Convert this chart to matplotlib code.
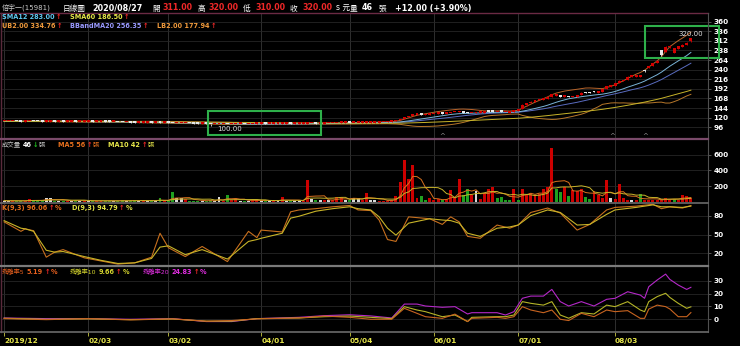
import numpy as np
import pandas as pd
import matplotlib
matplotlib.use('Agg')
import matplotlib.pyplot as plt
from matplotlib.lines import Line2D
from matplotlib.patches import Rectangle

plt.rcParams['font.family'] = ['DejaVu Sans', 'Noto Sans CJK TC']

W, H = 740, 346

# daily bars, one per trading day from 2019/12 to 2020/08/27
opens = [
    111, 111, 111, 111.5, 111, 110.5, 111, 112, 111.5, 111,
    110.5, 110.5, 110.5, 110, 110, 109.5, 110, 110, 109.5, 109.5,
    110, 110, 109.5, 110, 110.5, 110, 109.5, 109.5, 109, 108.5,
    108.5, 108, 107.5, 107.5, 108, 108, 107.5, 107.5, 107, 107.5,
    107, 106, 106, 106, 106.5, 106, 105.5, 105, 105, 104.5,
    104, 104, 104, 104.5, 103.5, 104, 104.5, 104.5, 104, 104,
    104.5, 105, 105, 104.5, 104.5, 105, 105, 105.5, 105.5, 105,
    105, 105, 105.5, 106, 106, 105.5, 105.5, 106, 106, 106.5,
    107, 107.5, 107.5, 107, 107, 107, 107.5, 108, 108, 108,
    108.5, 109, 110, 111.5, 113.5, 117, 121, 124.5, 127, 128,
    126, 127, 128.5, 129.5, 131, 130, 131.5, 133.5, 133.5, 134.5,
    133.5, 131, 131.5, 132, 132.5, 136, 136.5, 134, 135.5, 133.5,
    133, 134, 138, 142, 151, 156.5, 160, 163.5, 165, 167,
    172, 175, 176, 172, 174, 171, 173, 176, 183.5, 183,
    185.5, 183, 185, 192, 198, 200, 206, 211, 214, 222,
    222, 223, 238, 244, 250, 257, 288, 284, 296, 282,
    292, 298, 303, 311,
]
highs = [
    111.5, 111.5, 112, 111.5, 111.5, 111.5, 112.5, 112.5, 112, 111.5,
    111, 111, 111, 110.5, 110.5, 110.5, 110.5, 110.5, 110, 110.5,
    110.5, 110.5, 110.5, 111, 111, 110.5, 110, 110, 109.5, 109,
    109, 108.5, 108, 108.5, 108.5, 108.5, 108, 108, 108, 108,
    107.5, 106.5, 106.5, 107, 107, 106.5, 106, 105.5, 105.5, 105,
    104.5, 104.5, 105, 105, 104.5, 105, 105, 105, 104.5, 105,
    105.5, 105.5, 105.5, 105, 105.5, 105.5, 106, 106, 106, 105.5,
    105.5, 106, 106.5, 106.5, 106.5, 106, 106.5, 106.5, 107, 107.5,
    108, 108, 108, 107.5, 107.5, 108, 108.5, 108.5, 108.5, 109,
    109.5, 110.5, 111.5, 114, 117, 122, 125, 128, 129, 128.5,
    128, 129, 130, 131.5, 132, 131.5, 134, 135, 136, 135,
    134, 132.5, 133, 133, 134.5, 136.5, 137, 135, 136, 134.5,
    134, 139.5, 139, 153, 157, 161, 165, 166, 168, 173,
    179, 178.5, 176.5, 175, 174.5, 174, 176, 183, 184, 184,
    186, 186, 192, 200, 201, 207, 213, 215, 224, 224,
    227, 226, 239, 250, 257, 263, 290, 298, 302, 295,
    299, 304, 309, 320,
]
lows = [
    110.5, 110.5, 110.5, 110.5, 110, 110, 110.5, 111, 110.5, 110,
    110, 110, 109.5, 109.5, 109, 109, 109.5, 109, 109, 109,
    109.5, 109, 109, 109.5, 109.5, 109, 109, 108.5, 108, 108,
    107.5, 107, 107, 107, 107.5, 107, 107, 106.5, 106.5, 106.5,
    105.5, 105.5, 105.5, 105.5, 105.5, 105, 104.5, 104.5, 104, 100,
    103.5, 103.5, 103.5, 103, 103, 103.5, 104, 103.5, 103.5, 103.5,
    104, 104.5, 104, 104, 104, 104.5, 104.5, 105, 104.5, 104.5,
    104.5, 104.5, 105, 105.5, 105, 105, 105, 105.5, 105.5, 106,
    106.5, 107, 106.5, 106.5, 106.5, 106.5, 107, 107.5, 107.5, 107.5,
    108, 108.5, 109.5, 111, 113, 116.5, 120.5, 124, 126.5, 126.5,
    125.5, 126.5, 128, 129, 130, 129.5, 131, 133, 133, 132.5,
    130.5, 130.5, 131, 131.5, 132, 134.5, 135, 133.5, 134, 133,
    132.5, 133.5, 137.5, 141.5, 150, 156, 159.5, 163, 164.5, 166.5,
    171.5, 174.5, 172, 171.5, 170.5, 170.5, 172.5, 175.5, 181, 180.5,
    183, 182.5, 184.5, 191.5, 197.5, 199.5, 205.5, 210.5, 213.5, 221.5,
    221.5, 222.5, 235, 243, 249, 256, 275, 283, 295, 281,
    291, 297, 302, 310,
]
closes = [
    111, 111, 111.5, 111, 110.5, 111, 112, 111.5, 111, 110.5,
    110.5, 110.5, 110, 110, 109.5, 110, 110, 109.5, 109.5, 110,
    110, 109.5, 110, 110.5, 110, 109.5, 109.5, 109, 108.5, 108.5,
    108, 107.5, 107.5, 108, 108, 107.5, 107.5, 107, 107.5, 107,
    106, 106, 106, 106.5, 106, 105.5, 105, 105, 104.5, 104,
    104, 104, 104.5, 103.5, 104, 104.5, 104.5, 104, 104, 104.5,
    105, 105, 104.5, 104.5, 105, 105, 105.5, 105.5, 105, 105,
    105, 105.5, 106, 106, 105.5, 105.5, 106, 106, 106.5, 107,
    107.5, 107.5, 107, 107, 107, 107.5, 108, 108, 108, 108.5,
    109, 110, 111, 113, 116, 121, 124, 127, 128, 127,
    126.5, 128.5, 129, 131, 130.5, 131, 133.5, 134, 135, 133,
    131, 132, 132, 132.5, 134, 135, 135.5, 135, 134.5, 134,
    133.5, 139, 138.5, 152, 156, 160, 164, 165, 167, 172,
    178, 176.5, 172.5, 174, 171, 173, 175, 182, 181.5, 181,
    183.5, 185, 191, 199, 199, 206, 212, 214, 222.5, 222.5,
    226, 224, 236, 249, 256, 262, 276, 297, 300, 293,
    298, 303, 308, 320,
]
volume = [
    12, 8, 10, 6, 8, 10, 32, 15, 10, 8,
    50, 45, 10, 8, 12, 10, 8, 20, 6, 10,
    8, 10, 6, 12, 10, 8, 6, 8, 20, 10,
    8, 15, 10, 20, 8, 6, 10, 45, 10, 8,
    120, 45, 40, 35, 10, 12, 8, 10, 12, 15,
    10, 55, 12, 86, 15, 30, 10, 12, 8, 15,
    20, 12, 10, 8, 10, 15, 52, 10, 12, 8,
    10, 12, 280, 30, 20, 15, 25, 20, 15, 60,
    55, 20, 25, 50, 45, 20, 110, 20, 15, 10,
    12, 10, 15, 65, 258, 538, 289, 473, 47, 73,
    20, 40, 15, 30, 15, 30, 150, 50, 289, 86,
    163, 86, 134, 30, 108, 163, 185, 45, 60, 20,
    20, 159, 20, 159, 86, 108, 86, 100, 159, 185,
    689, 163, 120, 185, 73, 150, 141, 163, 55, 35,
    141, 86, 45, 278, 50, 30, 228, 45, 25, 15,
    25, 95, 20, 15, 20, 20, 30, 45, 25, 30,
    25, 86, 73, 46,
]

date_idx = [0, 20, 39, 61, 82, 102, 122, 145]
date_labels = ['2019/12', '02/03', '03/02', '04/01', '05/04', '06/01', '07/01', '08/03']

# KD(9,3)
kd_idx = [0, 4, 5, 7, 10, 12, 14, 19, 23, 27, 31, 35, 37, 39, 43, 47, 53, 58, 60, 61,
          66, 68, 70, 74, 78, 82, 84, 87, 89, 91, 93, 96, 101, 104, 106, 108, 110, 113, 117, 120,
          122, 125, 129, 132, 136, 139, 143, 145, 150, 154, 156, 158, 161, 163]
k_vals = [70, 55, 59, 56, 14, 22, 26, 13, 8, 3, 5, 14, 52, 29, 15, 31, 7, 55, 45, 57,
          54, 86, 89, 91, 94, 96, 89, 88, 73, 42, 39, 78, 75, 66, 78, 70, 47, 44, 65, 60,
          65, 85, 92, 84, 57, 66, 89, 93, 95, 98, 91, 94, 92, 96]
d_vals = [72, 60, 59, 55, 25, 22, 23, 15, 9, 4, 5, 12, 30, 32, 18, 26, 11, 39, 42, 44,
          52, 76, 79, 87, 91, 94, 91, 89, 78, 60, 49, 68, 75, 73, 72, 68, 52, 47, 60, 62,
          65, 80, 89, 85, 65, 66, 82, 89, 93, 97, 94, 94, 93, 95]

# bias (乖離率) 5 / 10 / 20
bias_idx = [0, 10, 20, 30, 40, 48, 54, 60, 70, 76, 82, 87, 92, 95, 98, 100, 104, 107, 110, 111,
            117, 119, 121, 123, 125, 128, 130, 132, 134, 137, 140, 143, 145, 148, 151, 152, 153, 155, 157, 158,
            160, 162, 163]
bias5 = [0.5, -0.3, 0.5, -0.5, 0.3, -1.5, -1.0, 0.3, 1.0, 2.5, 1.5, 0.0, 0.0, 8.5, 4.6, 2.0, 0.7, 4.0, -1.8, 0.7,
         1.5, 0.7, 2.0, 9.8, 7.2, 5.1, 7.2, 0.0, -1.0, 4.6, 2.0, 7.2, 5.9, 6.7, 0.7, 0.7, 7.9, 11.0, 9.8, 8.0,
         2.0, 2.0, 5.19]
bias10 = [0.8, 0.0, 0.3, -0.3, 0.2, -1.5, -1.5, 0.5, 1.0, 2.0, 2.5, 1.5, 0.5, 9.8, 7.2, 5.9, 2.0, 3.3, -1.8, 1.5,
          2.0, 2.0, 3.3, 13.7, 12.4, 11.0, 13.7, 3.3, 0.8, 5.1, 4.1, 11.0, 9.8, 13.7, 7.2, 5.9, 13.7, 17.6, 20.2, 17.0,
          12.4, 8.5, 9.66]
bias20 = [1.0, 0.5, 0.5, 0.0, 0.5, -1.8, -1.8, 0.5, 1.5, 2.8, 3.5, 2.6, 1.0, 11.8, 11.8, 10.3, 9.3, 9.8, 4.1, 5.1,
          5.1, 3.3, 5.9, 16.3, 18.0, 18.0, 23.2, 13.7, 10.3, 13.7, 10.3, 15.5, 16.3, 21.4, 18.8, 16.3, 25.3, 30.5, 35.1, 31.0,
          26.6, 23.2, 24.83]

o, h, l, c = map(np.array, (opens, highs, lows, closes))
x = np.arange(len(c))
s = pd.Series(c)
sma12 = s.rolling(12, min_periods=1).mean()
sma60 = s.rolling(60, min_periods=1).mean()
mid = s.rolling(20, min_periods=1).mean()
sd = s.rolling(20, min_periods=1).std(ddof=0)
vs = pd.Series(volume)
vma5 = vs.rolling(5, min_periods=1).mean()
vma10 = vs.rolling(10, min_periods=1).mean()

fig = plt.figure(figsize=(W / 100, H / 100), dpi=100, facecolor='black')
renderer = fig.canvas.get_renderer()


def box(top, bottom):
    return [2 / W, 1 - bottom / H, 706 / W, (bottom - top) / H]


ax_p = fig.add_axes(box(13, 139))
ax_v = fig.add_axes(box(139, 203), sharex=ax_p)
ax_k = fig.add_axes(box(203, 266), sharex=ax_p)
ax_r = fig.add_axes(box(266, 332), sharex=ax_p)

panels = [
    (ax_p, (66.75, 381.75), list(range(96, 361, 24))),
    (ax_v, (-19, 806), [200, 400, 600]),
    (ax_k, (0, 100), [20, 50, 80]),
    (ax_r, (-9.9, 41.4), [0, 10, 20, 30]),
]
for ax, ylim, yt in panels:
    ax.set_facecolor('black')
    for sp in ax.spines.values():
        sp.set_visible(False)
    ax.set_ylim(*ylim)
    ax.yaxis.tick_right()
    ax.set_yticks(yt)
    ax.tick_params(axis='y', color='#777777', labelcolor='white', labelsize=5.2,
                   length=2, width=0.5, pad=2)
    ax.tick_params(axis='x', length=0, labelbottom=False)
    for lab in ax.get_yticklabels():
        lab.set_fontweight('bold')
    ax.xaxis.grid(True, color='#363636', lw=0.6)
    ax.yaxis.grid(True, color='#262626', lw=0.6)
    ax.set_axisbelow(True)

ax_p.set_xlim(-0.5, 167.06)
ax_r.set_xticks(date_idx)
ax_r.set_xticklabels(date_labels, ha='left', fontweight='bold')
ax_r.tick_params(axis='x', labelbottom=True, length=3, width=0.6, color='#c8c840',
                 labelcolor='#e6e64a', labelsize=5.3, pad=1.5)

# price panel
ax_p.plot(x, mid + 2 * sd, color='#b8642a', lw=0.7, zorder=2)
ax_p.plot(x, mid - 2 * sd, color='#b8782a', lw=0.7, zorder=2)
ax_p.plot(x, mid, color='#5a6cc0', lw=0.7, zorder=2)
ax_p.plot(x, sma12, color='#7ab4d8', lw=0.7, zorder=2)
ax_p.plot(x, sma60, color='#c8b42a', lw=0.7, zorder=2)
body_col = np.where(c >= o, '#d40000', '#e8e8e8')
ax_p.vlines(x, l, h, colors=body_col, lw=0.6, zorder=4)
ax_p.bar(x, np.maximum(np.abs(c - o), 3.5), bottom=np.minimum(o, c), width=0.7,
         color=body_col, linewidth=0, zorder=5)
hi = int(np.argmax(h))
lo = int(np.argmin(l))
ax_p.text(hi, h[hi] + 3, f'{h[hi]:.2f}', color='#e0e0e0', fontsize=5, ha='center', va='bottom')
ax_p.text(lo + 1.5, l[lo] - 1, f'{l[lo]:.2f}', color='#e0e0e0', fontsize=5, ha='left', va='top')

# volume panel
prev = np.r_[c[0], c[:-1]]
vcol = np.where(c > prev, '#cc0000', np.where(c < prev, '#1fa01f', '#d8d8d8'))
ax_v.bar(x, volume, width=0.7, color=vcol, linewidth=0, zorder=2)
ax_v.plot(x, vma5, color='#d8701e', lw=0.7, zorder=3)
ax_v.plot(x, vma10, color='#c8b42a', lw=0.7, zorder=3)

# KD panel
ax_k.plot(kd_idx, k_vals, color='#c8701e', lw=0.8)
ax_k.plot(kd_idx, d_vals, color='#c8b428', lw=0.8)

# bias panel
ax_r.plot(bias_idx, bias20, color='#b428c8', lw=0.8)
ax_r.plot(bias_idx, bias10, color='#b4b428', lw=0.8)
ax_r.plot(bias_idx, bias5, color='#c86420', lw=0.8)


def t(px, py, txt, color, size, bold=False):
    return fig.text(px / W, 1 - py / H, txt, color=color, fontsize=size,
                    fontweight='bold' if bold else 'normal', ha='left', va='center')


def after(prev_txt, txt, color, size, bold=True, gap=1.5):
    # put a text right after the previous one
    bb = prev_txt.get_window_extent(renderer=renderer)
    py = H - (bb.y0 + bb.y1) / 2
    return t(bb.x1 + gap, py, txt, color, size, bold)


def hline(py, x0, x1, color, lw):
    fig.add_artist(Line2D([x0 / W, x1 / W], [1 - py / H, 1 - py / H], color=color, lw=lw))


def vline(px, y0, y1, color, lw):
    fig.add_artist(Line2D([px / W, px / W], [1 - y0 / H, 1 - y1 / H], color=color, lw=lw))


RED = '#f02828'
# header
t(2, 8, '倍宇一(15981)', '#c8c8c8', 5)
t(63, 8, '日線圖', 'white', 5.5)
t(92, 8, '2020/08/27', 'white', 5.8, True)
t(152, 8, '開', 'white', 5.5)
t(162, 8, f'{opens[-1]:.2f}', RED, 5.7, True)
t(198, 8, '高', 'white', 5.5)
t(208, 8, f'{highs[-1]:.2f}', RED, 5.7, True)
t(243, 8, '低', 'white', 5.5)
t(255, 8, f'{lows[-1]:.2f}', RED, 5.7, True)
t(290, 8, '收', 'white', 5.5)
t(302, 8, f'{closes[-1]:.2f}', RED, 5.7, True)
t(336, 8, 's 元', 'white', 5.5)
t(350, 8, '量', 'white', 5.5)
t(362, 8, f'{volume[-1]}', 'white', 5.8, True)
t(379, 8, '張', 'white', 5.5)
t(395, 8, '+12.00 (+3.90%)', 'white', 5.8, True)

# price legends
LS = 4.7
a = t(2, 17, 'SMA12 283.00', '#5ec8f0', LS, True)
after(a, '↑', RED, LS)
a = t(70, 17, 'SMA60 186.50', '#e6e64a', LS, True)
after(a, '↑', RED, LS)
a = t(2, 26, 'UB2.00 334.76', '#f09a3c', LS, True)
after(a, '↑', RED, LS)
a = t(70, 26, 'BBandMA20 256.35', '#9a9aff', LS, True)
after(a, '↑', RED, LS)
a = t(157, 26, 'LB2.00 177.94', '#f09a3c', LS, True)
after(a, '↑', RED, LS)

# volume legend
a = t(2, 145, '成交量', '#c0c0c0', 4.6)
a = after(a, '46', 'white', LS)
a = after(a, '↓', '#20c020', LS, gap=1)
after(a, '張', '#c0c0c0', 4.6, False, gap=0.5)
a = t(58, 145, 'MA5 56', '#e8701e', LS, True)
a = after(a, '↑', RED, LS)
after(a, '張', '#e8701e', 4.6, False, gap=0.5)
a = t(108, 145, 'MA10 42', '#e6e64a', LS, True)
a = after(a, '↑', RED, LS)
after(a, '張', '#e6e64a', 4.6, False, gap=0.5)

# KD legend
a = t(2, 208, 'K(9,3) 96.06', '#e8701e', LS, True)
a = after(a, '↑', RED, LS)
after(a, '%', '#e8701e', LS, gap=1)
a = t(72, 208, 'D(9,3) 94.79', '#e6e64a', LS, True)
a = after(a, '↑', RED, LS)
after(a, '%', '#e6e64a', LS, gap=1)

# bias legend
for px, name, val, col in [(2, '乖離率5', '5.19', '#e8601e'),
                           (70, '乖離率10', '9.66', '#d6d62e'),
                           (143, '乖離率20', '24.83', '#e02ee0')]:
    a = t(px, 272, name, col, 4.5)
    a = after(a, val, col, LS, gap=2)
    a = after(a, '↑', RED, LS)
    after(a, '%', col, LS, gap=1)

# small markers under the price panel
for mx in (442, 612, 645):
    fig.text(mx / W, 1 - 136 / H, '^', color='#8a8a8a', fontsize=5, ha='center', va='center')

# panel borders
hline(13, 0, 708, '#6b2a44', 1.0)
vline(1, 13, 332, '#5a2a3c', 1.0)
vline(708, 13, 332, '#505050', 0.8)
hline(139, 0, 708, '#7a4a6a', 1.6)
hline(203, 0, 708, '#6a6a6a', 1.2)
hline(266, 0, 708, '#7a7a7a', 1.6)
hline(332, 0, 708, '#6a6a6a', 1.2)

# highlight boxes
for (x0, y0, x1, y1) in [(208, 111, 321, 135), (645, 26, 719, 58)]:
    fig.add_artist(Rectangle((x0 / W, 1 - y1 / H), (x1 - x0) / W, (y1 - y0) / H,
                             transform=fig.transFigure, fill=False,
                             edgecolor='#2eb04a', lw=1.5))

fig.savefig('out.png', dpi=100, facecolor='black')
